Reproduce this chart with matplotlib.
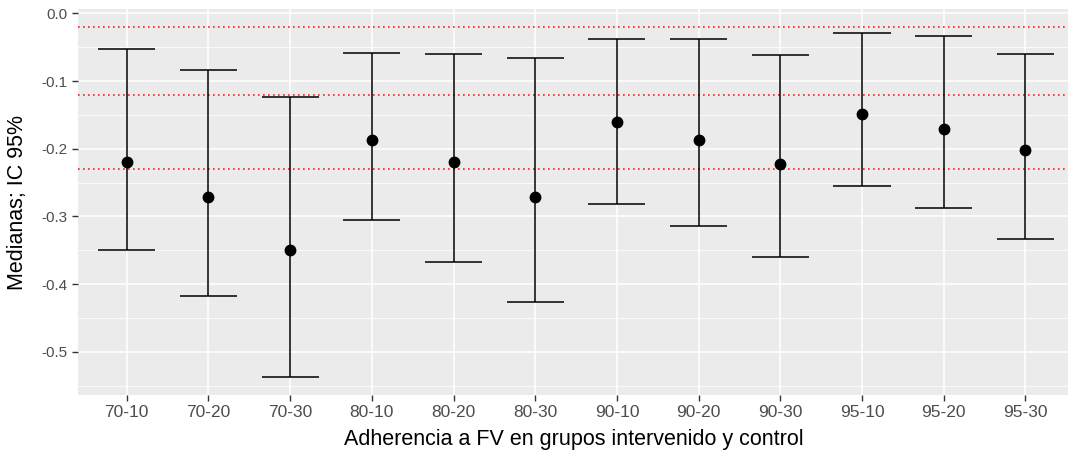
import numpy as np
import matplotlib
matplotlib.use("Agg")
import matplotlib.pyplot as plt
from matplotlib.ticker import MultipleLocator

plt.rcParams['font.family'] = ['Liberation Sans', 'DejaVu Sans']

# Medianas e intervalos de confianza al 95% por grupo
grupos = ['70-10', '70-20', '70-30', '80-10', '80-20', '80-30',
          '90-10', '90-20', '90-30', '95-10', '95-20', '95-30']
mediana = [-0.220, -0.271, -0.349, -0.187, -0.220, -0.271,
           -0.160, -0.187, -0.222, -0.149, -0.171, -0.202]
ic_inf = [-0.349, -0.418, -0.538, -0.305, -0.367, -0.427,
          -0.282, -0.314, -0.360, -0.255, -0.287, -0.333]
ic_sup = [-0.053, -0.084, -0.124, -0.058, -0.060, -0.066,
          -0.038, -0.038, -0.062, -0.029, -0.033, -0.060]
referencias = [-0.02, -0.12, -0.23]

fig = plt.figure(figsize=(10.68, 4.54), dpi=100)
# el panel se sale un poco por la derecha de la figura
ax_w, ax_h = 996.7, 385.7
ax = fig.add_axes([77.7 / 1068, 59 / 454, ax_w / 1068, ax_h / 454])

gris_txt = '#4D4D4D'
ax.set_facecolor('#EBEBEB')
for s in ax.spines.values():
    s.set_visible(False)

x = np.arange(len(grupos))
ax.set_xlim(-0.6, len(grupos) - 1 + 0.6)
ax.set_ylim(-0.564, 0.006)

ax.yaxis.set_major_locator(MultipleLocator(0.1))
ax.yaxis.set_minor_locator(MultipleLocator(0.05))
ax.grid(which='major', color='white', linewidth=1.1)
ax.grid(which='minor', axis='y', color='white', linewidth=0.55)
ax.set_axisbelow(True)

for r in referencias:
    ax.axhline(r, color='#FF2020', linestyle=(0, (1, 2)), linewidth=1.2, zorder=2)

# barras de error con remates
ax.vlines(x, ic_inf, ic_sup, color='black', linewidth=1.1, zorder=3)
ax.hlines(ic_inf, x - 0.35, x + 0.35, color='black', linewidth=1.1, zorder=3)
ax.hlines(ic_sup, x - 0.35, x + 0.35, color='black', linewidth=1.1, zorder=3)
ax.plot(x, mediana, 'o', color='black', markersize=7.5, zorder=4)

ax.set_xticks(x)
ax.set_xticklabels(grupos)
ax.set_yticks(np.arange(-0.5, 0.01, 0.1))
ax.set_yticklabels(['-0.5', '-0.4', '-0.3', '-0.2', '-0.1', '0.0'])
ax.tick_params(which='major', colors='#333333', length=4, width=1.0,
               labelcolor=gris_txt)
ax.tick_params(axis='x', labelsize=12.5, pad=3.5)
ax.tick_params(axis='y', labelsize=11, pad=3.5)
ax.tick_params(which='minor', length=0)

ax.set_xlabel('Adherencia a FV en grupos intervenido y control',
              fontsize=15.5, color='black', va='center')
ax.xaxis.set_label_coords(0.498, -45 / ax_h)
ax.set_ylabel('Medianas; IC 95%', fontsize=15.5, color='black', va='center')
ax.yaxis.set_label_coords(-59.7 / ax_w, 0.5)

fig.savefig('out.png', dpi=100)
